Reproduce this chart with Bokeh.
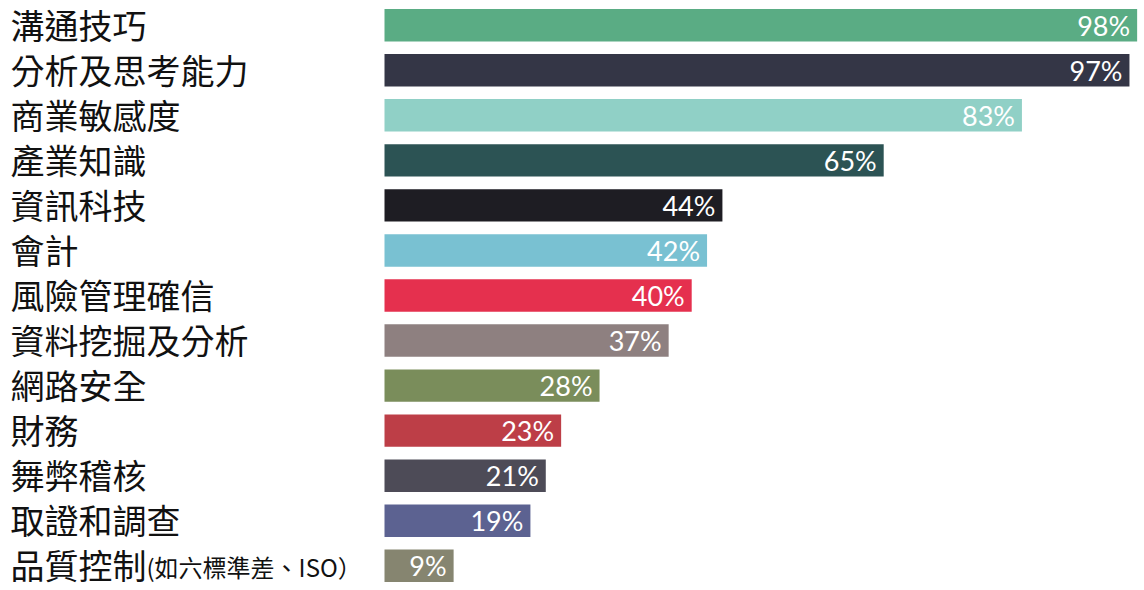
from bokeh.plotting import figure
from bokeh.models import ColumnDataSource, LabelSet, FactorRange
from bokeh.core.properties import value
from bokeh.embed import file_html
from bokeh.resources import INLINE

categories = ["溝通技巧", "分析及思考能力", "商業敏感度", "產業知識", "資訊科技", "會計",
              "風險管理確信", "資料挖掘及分析", "網路安全", "財務", "舞弊稽核", "取證和調查", "品質控制"]
category_notes = ["", "", "", "", "", "", "", "", "", "", "", "", "(如六標準差、ISO）"]
values = [98, 97, 83, 65, 44, 42, 40, 37, 28, 23, 21, 19, 9]
value_labels = [f"{v}%" for v in values]
colors = ["#5aac84", "#343646", "#90d0c6", "#2c5354", "#1e1d23", "#79c1d2", "#e5304e",
          "#8e8080", "#7a8d5b", "#bd3e47", "#4d4b57", "#5c6291", "#868570"]

W, H = 1140, 590
px_per_unit = 7.68
bar_left_px = 384
x_start = -bar_left_px / px_per_unit
x_end = x_start + W / px_per_unit

src = ColumnDataSource(dict(cat=categories, val=values, lab=value_labels, col=colors,
                            zero=[0] * len(values)))

yr = FactorRange(factors=categories[::-1], range_padding=-0.04, range_padding_units="absolute")
p = figure(width=W, height=H, y_range=yr, x_range=(x_start, x_end),
           output_backend="svg", toolbar_location=None,
           min_border_left=0, min_border_right=0, min_border_top=4, min_border_bottom=4,
           outline_line_color=None, background_fill_color="white", border_fill_color="white")
p.axis.visible = False
p.grid.visible = False

p.hbar(y="cat", left="zero", right="val", height=0.72, fill_color="col", line_color=None, source=src)

p.add_layout(LabelSet(x="val", y="cat", text="lab", source=src, x_offset=-7, y_offset=0,
                      text_align="right", text_baseline="middle", text_color="white",
                      text_font=value("Lato"), text_font_size="27px"))

p.add_layout(LabelSet(x=10, y="cat", x_units="screen", text="cat", source=src, y_offset=1,
                      text_align="left", text_baseline="middle", text_color="#111111",
                      text_font=value("Noto Sans CJK TC"), text_font_size="34px"))

note_src = ColumnDataSource(dict(cat=[c for c, n in zip(categories, category_notes) if n],
                                 note=[n for n in category_notes if n]))
p.add_layout(LabelSet(x=146, y="cat", x_units="screen", text="note", source=note_src, y_offset=-1,
                      text_align="left", text_baseline="middle", text_color="#111111",
                      text_font=value("Noto Sans CJK TC"), text_font_size="24px"))

open("out.html", "w").write(file_html(p, INLINE))
